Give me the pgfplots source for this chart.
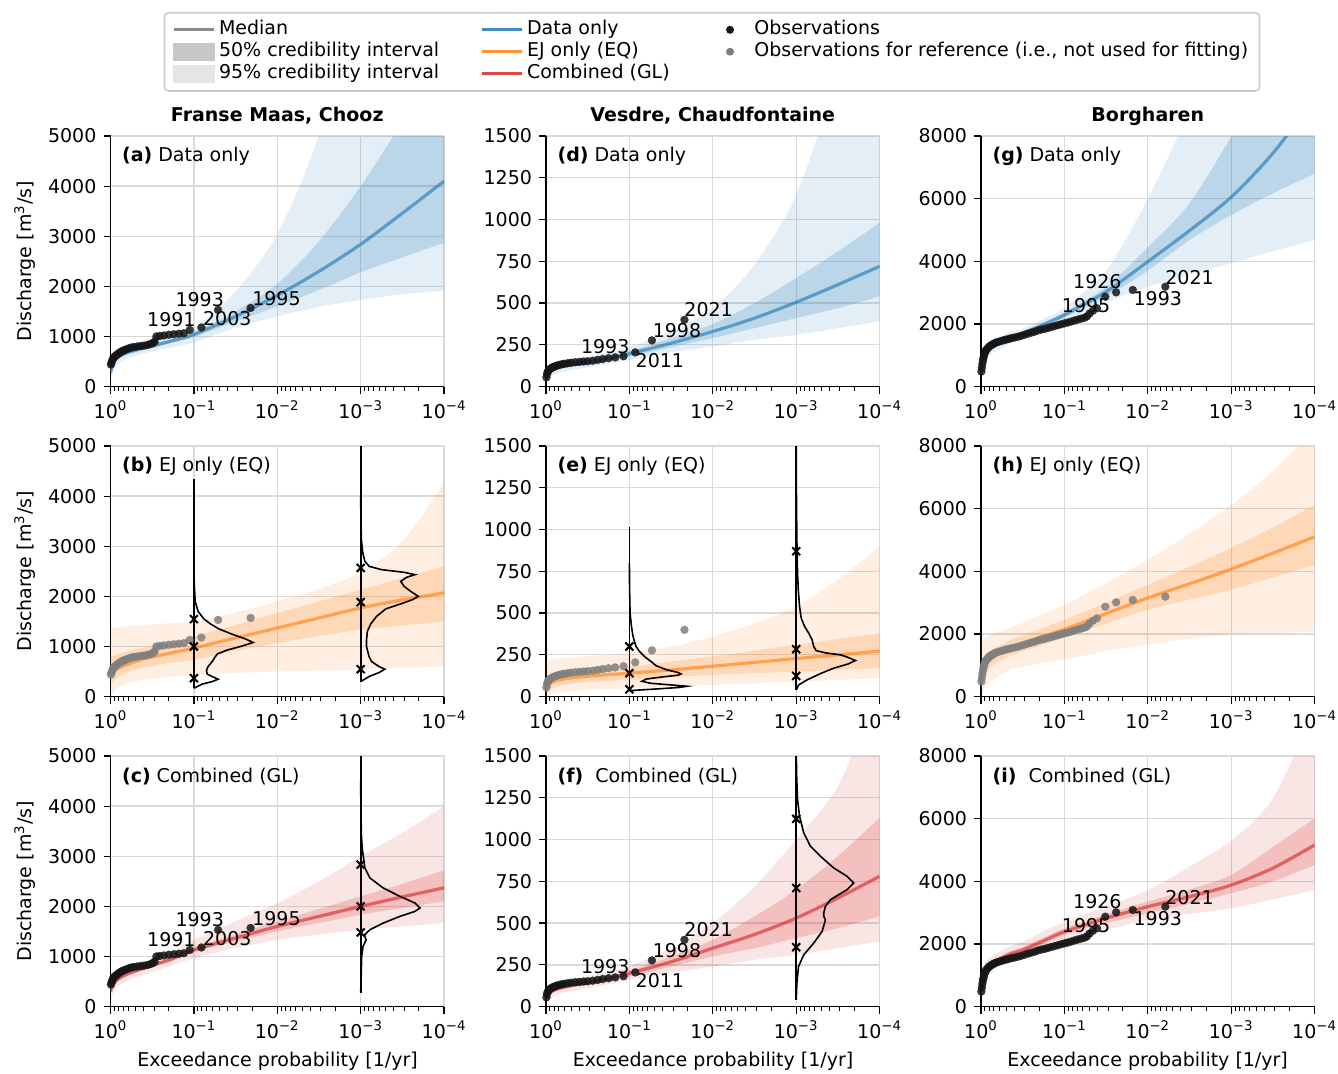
\documentclass[border=0pt]{standalone}
\usepackage{fontspec}
\setmainfont{DejaVu Sans}
\usepackage{pgfplots}
\pgfplotsset{compat=1.18}
\usepackage{pgfplotstable}
\usepgfplotslibrary{fillbetween}
\newcommand{\fs}{\fontsize{9.5pt}{11pt}\selectfont}
\definecolor{tblue}{HTML}{1F77B4}
\definecolor{torange}{HTML}{FF7F0E}
\definecolor{tred}{HTML}{D62728}
\definecolor{gridc}{HTML}{DADADA}
\definecolor{refgray}{HTML}{7F7F7F}
\definecolor{obsblack}{HTML}{151515}

\tikzset{
  yl/.style={font=\fs, inner sep=0pt},
  plab/.style={font=\fs, inner sep=0pt, anchor=west},
}
\pgfplotsset{
  every axis title/.style={at={(0.5,1)}, anchor=base, yshift=7.5pt, font=\fs\bfseries},
  panel/.style={
    scale only axis, width=166.8pt, height=125.3pt, anchor=north west,
    xmin=0, xmax=4, ymin=0,
    axis lines=left, axis line style={-, line width=0.65pt, black},
    xtick={0,1,2,3,4},
    xticklabels={10\textsuperscript{0},10\textsuperscript{−1},10\textsuperscript{−2},10\textsuperscript{−3},10\textsuperscript{−4}},
    xminorticks=true,
    minor xtick={0.0458,0.0969,0.1549,0.2218,0.3010,0.3979,0.5229,0.6990,
      1.0458,1.0969,1.1549,1.2218,1.3010,1.3979,1.5229,1.6990,
      2.0458,2.0969,2.1549,2.2218,2.3010,2.3979,2.5229,2.6990,
      3.0458,3.0969,3.1549,3.2218,3.3010,3.3979,3.5229,3.6990},
    tick align=outside, major tick length=3.5pt, minor tick length=2pt,
    major tick style={black, line width=0.6pt},
    minor tick style={black, line width=0.5pt},
    grid=major, major grid style={line width=0.65pt, gridc},
    tick label style={font=\fs},
    scaled ticks=false,
    /pgf/number format/1000 sep={},
    /pgf/number format/assume math mode=true,
  },
}

\newcommand{\bands}[3]{%
 \addplot[name path=#3lA, draw=none, smooth, forget plot] table[x=d,y=lo95]{#1};
 \addplot[name path=#3hA, draw=none, smooth, forget plot] table[x=d,y=hi95]{#1};
 \addplot[name path=#3lB, draw=none, smooth, forget plot] table[x=d,y=lo50]{#1};
 \addplot[name path=#3hB, draw=none, smooth, forget plot] table[x=d,y=hi50]{#1};
 \addplot[fill=#2, fill opacity=0.12, draw=none, forget plot] fill between[of=#3lA and #3hA];
 \addplot[fill=#2, fill opacity=0.2, draw=none, forget plot] fill between[of=#3lB and #3hB];
 \addplot[#2, draw opacity=0.62, line width=1.6pt, smooth, forget plot] table[x=d,y=med]{#1};
}
\newcommand{\obs}[2]{\addplot[only marks, mark=*, mark size=2pt, color=#2, mark options={line width=0.1pt, opacity=0.85}, forget plot] table[x=d,y=q]{#1};}
\newcommand{\labsChooz}{%
 \node[yl] at (axis cs:1.07,1733) {1993};
 \node[yl] at (axis cs:0.73,1335) {1991};
 \node[yl] at (axis cs:1.40,1350) {2003};
 \node[yl] at (axis cs:1.99,1750) {1995};}
\newcommand{\labsVesdre}{%
 \node[yl] at (axis cs:1.95,459) {2021};
 \node[yl] at (axis cs:1.57,336) {1998};
 \node[yl] at (axis cs:0.71,237) {1993};
 \node[yl] at (axis cs:1.365,157) {2011};}
\newcommand{\labsBorg}{%
 \node[yl] at (axis cs:1.395,3341) {1926};
 \node[yl] at (axis cs:1.26,2575) {1995};
 \node[yl] at (axis cs:2.12,2798) {1993};
 \node[yl] at (axis cs:2.50,3484) {2021};}

% ---------------- data -----------------
\pgfplotstableread{
d lo95 lo50 med hi50 hi95
0 80 220 270 330 550
0.02 250 370 420 470 620
0.05 380 480 530 580 680
0.1 470 555 600 645 740
0.2 560 640 680 720 800
0.35 640 710 750 790 870
0.5 700 770 810 850 950
0.75 790 880 920 960 1050
1 880 990 1040 1090 1170
1.5 1180 1300 1400 1500 1900
2 1400 1600 1820 2050 3050
2.5 1590 1930 2300 2900 5050
3 1730 2280 2840 4000 8500
3.5 1840 2580 3460 5300 13000
4 1920 2870 4100 6800 20000
}\tabA
\pgfplotstableread{
d lo95 lo50 med hi50 hi95
0 0 200 420 800 1367
0.02 50 260 480 810 1370
0.05 120 330 520 830 1375
0.1 190 400 570 850 1385
0.2 260 480 640 900 1400
0.35 320 560 730 960 1420
0.5 360 610 790 1010 1440
0.75 400 680 880 1100 1470
1 430 733 970 1200 1500
1.5 470 910 1170 1430 1680
2 500 1067 1370 1667 1900
2.5 520 1210 1570 1900 2150
3 540 1333 1770 2133 2480
3.5 570 1420 1930 2370 3100
4 600 1500 2070 2600 4270
}\tabB
\pgfplotstableread{
d lo95 lo50 med hi50 hi95
0 67 250 300 350 533
0.02 220 360 400 440 580
0.05 330 445 480 515 630
0.1 420 525 560 595 690
0.2 520 615 650 685 770
0.35 610 705 740 775 860
0.5 690 785 820 855 940
0.75 830 920 960 1000 1100
1 967 1090 1130 1180 1333
1.5 1170 1300 1370 1440 1700
2 1333 1500 1600 1700 2067
2.5 1440 1670 1800 1950 2500
3 1533 1833 2000 2200 3000
3.5 1600 1970 2190 2450 3467
4 1667 2100 2370 2720 4000
}\tabC
\pgfplotstableread{
d lo95 lo50 med hi50 hi95
0 15 35 50 65 100
0.02 40 62 75 88 115
0.05 58 80 92 104 125
0.1 75 95 105 116 135
0.2 90 110 120 130 150
0.35 103 123 133 143 163
0.5 115 135 145 155 175
0.75 138 157 170 183 205
1 160 180 197 213 235
1.5 205 235 260 290 330
2 240 290 330 375 470
2.5 280 350 410 500 730
3 310 410 505 650 1150
3.5 350 470 610 810 1900
4 390 540 720 980 3000
}\tabD
\pgfplotstableread{
d lo95 lo50 med hi50 hi95
0 0 10 55 110 220
0.02 5 25 70 113 221
0.05 12 40 80 117 222
0.1 20 55 92 123 225
0.2 28 70 105 132 230
0.35 35 80 115 142 237
0.5 40 86 122 150 242
0.75 45 94 132 165 250
1 50 100 140 180 260
1.5 60 116 160 210 300
2 70 130 182 240 360
2.5 80 140 205 275 440
3 90 150 228 310 540
3.5 100 160 250 345 700
4 110 170 272 380 900
}\tabE
\pgfplotstableread{
d lo95 lo50 med hi50 hi95
0 0 35 50 65 110
0.02 30 58 70 82 118
0.05 48 74 85 96 126
0.1 65 89 100 111 136
0.2 82 104 115 126 150
0.35 97 120 130 140 165
0.5 110 132 142 152 180
0.75 135 155 168 180 208
1 160 180 200 216 240
1.5 205 240 268 300 350
2 240 300 350 400 500
2.5 280 350 432 540 720
3 310 410 530 700 1000
3.5 350 470 650 900 1320
4 390 540 780 1130 1900
}\tabF
\pgfplotstableread{
d lo95 lo50 med hi50 hi95
0 400 600 700 800 900
0.02 650 850 950 1050 1150
0.05 850 1040 1120 1200 1300
0.1 1000 1200 1270 1340 1430
0.2 1170 1360 1420 1480 1580
0.35 1360 1510 1570 1630 1730
0.5 1550 1640 1700 1760 1850
0.75 1850 1900 1980 2060 2170
1 2120 2200 2290 2380 2520
1.5 2680 2870 3030 3180 3700
2 3190 3700 3990 4450 6000
2.5 3580 4680 4980 5850 9000
3 3940 5480 6050 8000 14000
3.5 4320 6170 7450 10500 19000
4 4680 6800 9200 13000 25000
}\tabG
\pgfplotstableread{
d lo95 lo50 med hi50 hi95
0 0 450 700 1000 1800
0.02 150 600 850 1100 1850
0.05 300 750 1000 1250 1900
0.1 450 900 1150 1400 1960
0.2 650 1100 1350 1600 2050
0.35 850 1300 1560 1800 2200
0.5 950 1440 1700 1950 2350
0.75 1080 1660 1930 2200 2650
1 1180 1880 2150 2450 2930
1.5 1450 2330 2650 3000 3630
2 1660 2770 3150 3570 4370
2.5 1850 3100 3600 4150 5200
3 1980 3410 4070 4750 6120
3.5 2030 3800 4580 5400 7200
4 2070 4200 5100 6120 8500
}\tabH
\pgfplotstableread{
d lo95 lo50 med hi50 hi95
0 320 650 750 850 1100
0.02 550 850 950 1050 1250
0.05 800 1050 1150 1250 1400
0.1 1000 1200 1300 1400 1550
0.2 1250 1390 1480 1570 1720
0.35 1450 1590 1680 1770 1920
0.5 1600 1720 1810 1900 2070
0.75 1850 2000 2100 2200 2400
1 2070 2290 2390 2500 2710
1.5 2450 2660 2820 2950 3200
2 2770 2980 3190 3350 3720
2.5 2960 3280 3510 3740 4470
3 3140 3620 3880 4200 5300
3.5 3420 4000 4420 5100 6650
4 3720 4520 5160 6010 9500
}\tabI
\pgfplotstableread{
d q
0.005 440
0.012 480
0.02 520
0.03 560
0.04 580
0.05 600
0.065 620
0.08 640
0.095 660
0.11 680
0.13 700
0.15 715
0.17 730
0.19 745
0.22 765
0.25 780
0.28 790
0.32 800
0.36 810
0.40 818
0.44 830
0.48 850
0.51 870
0.53 900
0.55 1000
0.59 1010
0.64 1020
0.70 1035
0.76 1045
0.82 1055
0.88 1065
0.95 1130
1.09 1180
1.29 1530
1.68 1570
}\obsChooz
\pgfplotstableread{
d q
0.005 55
0.012 75
0.02 88
0.03 96
0.04 102
0.055 108
0.07 113
0.09 118
0.11 122
0.13 126
0.16 130
0.19 134
0.22 137
0.26 140
0.30 143
0.35 146
0.40 148
0.45 150
0.50 152
0.56 155
0.62 160
0.68 165
0.75 170
0.83 175
0.93 182
1.07 205
1.27 277
1.66 400
}\obsVesdre
\pgfplotstableread{
d q
0.004 480
0.010 600
0.016 720
0.022 820
0.028 900
0.035 980
0.042 1050
0.050 1110
0.060 1160
0.072 1200
0.085 1240
0.10 1280
0.12 1320
0.14 1350
0.16 1380
0.18 1405
0.21 1430
0.24 1455
0.27 1480
0.30 1500
0.33 1520
0.36 1545
0.40 1565
0.44 1590
0.48 1620
0.52 1655
0.56 1690
0.60 1720
0.64 1750
0.68 1790
0.72 1820
0.76 1840
0.80 1870
0.84 1900
0.88 1930
0.92 1960
0.96 1990
1.00 2020
1.04 2045
1.08 2075
1.12 2110
1.16 2140
1.20 2170
1.24 2200
1.27 2240
1.30 2330
1.34 2420
1.39 2500
1.49 2870
1.62 3010
1.82 3085
2.21 3190
}\obsBorg

\begin{document}
\begin{tikzpicture}

% ===== (a)
\begin{axis}[panel, at={(55.25pt,-68pt)}, ymax=5000, ytick={0,1000,...,5000}, title={Franse Maas, Chooz}]
\bands{\tabA}{tblue}{pa}
\obs{\obsChooz}{obsblack}
\labsChooz
\node[plab] at (rel axis cs:0.0335,0.92) {\textbf{(a)} Data only};
\end{axis}
% ===== (b)
\begin{axis}[panel, at={(55.25pt,-223pt)}, ymax=5000, ytick={0,1000,...,5000}]
\bands{\tabB}{torange}{pb}
\obs{\obsChooz}{refgray}
\addplot[black, line width=0.8pt, forget plot] coordinates {(1,167) (1,4333)};
\addplot[black, line width=0.8pt, forget plot] coordinates {(1,167) (1.10,250) (1.22,300) (1.29,347) (1.22,400) (1.16,450) (1.15,520) (1.17,600) (1.22,700) (1.25,780) (1.28,850) (1.40,930) (1.56,1000) (1.71,1080) (1.62,1150) (1.45,1250) (1.30,1350) (1.20,1450) (1.12,1550) (1.05,1700) (1.015,1900) (1.003,2300) (1,2600)};
\addplot[only marks, mark=x, mark size=2.8pt, black, mark options={line width=1pt}, forget plot] coordinates {(1,367) (1,1000) (1,1547)};
\addplot[black, line width=0.8pt, forget plot] coordinates {(3,300) (3,6000)};
\addplot[black, line width=0.8pt, forget plot] coordinates {(3,300) (3.10,400) (3.22,480) (3.29,547) (3.22,600) (3.13,700) (3.10,800) (3.07,1000) (3.07,1133) (3.08,1300) (3.12,1450) (3.19,1600) (3.30,1750) (3.48,1850) (3.62,1933) (3.69,2000) (3.60,2100) (3.52,2200) (3.48,2300) (3.55,2380) (3.65,2433) (3.52,2480) (3.25,2533) (3.10,2600) (3.05,2700) (3.025,2867) (3.008,3133) (3.002,3600) (3,4000)};
\addplot[only marks, mark=x, mark size=2.8pt, black, mark options={line width=1pt}, forget plot] coordinates {(3,547) (3,1887) (3,2567)};
\node[plab] at (rel axis cs:0.0335,0.92) {\textbf{(b)} EJ only (EQ)};
\end{axis}
% ===== (c)
\begin{axis}[panel, at={(55.25pt,-378pt)}, ymax=5000, ytick={0,1000,...,5000}]
\bands{\tabC}{tred}{pc}
\obs{\obsChooz}{obsblack}
\labsChooz
\addplot[black, line width=0.8pt, forget plot] coordinates {(3,280) (3,6000)};
\addplot[black, line width=0.8pt, forget plot] coordinates {(3,280) (3.012,1000) (3.028,1200) (3.065,1333) (3.05,1400) (3.048,1433) (3.11,1533) (3.27,1667) (3.47,1800) (3.65,1900) (3.71,1967) (3.65,2067) (3.47,2200) (3.27,2367) (3.11,2567) (3.05,2767) (3.02,3133) (3.008,3433) (3.002,4000) (3,4500)};
\addplot[only marks, mark=x, mark size=2.8pt, black, mark options={line width=1pt}, forget plot] coordinates {(3,1480) (3,2000) (3,2833)};
\node[plab] at (rel axis cs:0.0335,0.92) {\textbf{(c)} Combined (GL)};
\end{axis}

% ===== (d)
\begin{axis}[panel, at={(273pt,-68pt)}, ymax=1500, ytick={0,250,...,1500}, title={Vesdre, Chaudfontaine}]
\bands{\tabD}{tblue}{pd}
\obs{\obsVesdre}{obsblack}
\labsVesdre
\node[plab] at (rel axis cs:0.0335,0.92) {\textbf{(d)} Data only};
\end{axis}
% ===== (e)
\begin{axis}[panel, at={(273pt,-223pt)}, ymax=1500, ytick={0,250,...,1500}]
\bands{\tabE}{torange}{pe}
\obs{\obsVesdre}{refgray}
\addplot[black, line width=0.8pt, forget plot] coordinates {(1,36) (1,1016)};
\addplot[black, line width=0.8pt, forget plot] coordinates {(1,36) (1.3,45) (1.6,55) (1.69,62) (1.5,70) (1.25,80) (1.15,92) (1.2,105) (1.4,118) (1.58,128) (1.62,136) (1.58,145) (1.45,160) (1.32,185) (1.26,210) (1.18,240) (1.12,270) (1.08,300) (1.06,330) (1.04,370) (1.025,420) (1.008,500) (1.002,650) (1,800)};
\addplot[only marks, mark=x, mark size=2.8pt, black, mark options={line width=1pt}, forget plot] coordinates {(1,44) (1,140) (1,300)};
\addplot[black, line width=0.8pt, forget plot] coordinates {(3,40) (3,2000)};
\addplot[black, line width=0.8pt, forget plot] coordinates {(3,40) (3.03,70) (3.13,100) (3.30,140) (3.45,170) (3.62,195) (3.71,216) (3.62,235) (3.53,250) (3.35,262) (3.24,275) (3.21,300) (3.19,340) (3.15,380) (3.10,420) (3.06,470) (3.04,540) (3.025,640) (3.016,740) (3.008,940) (3.003,1200) (3,1500)};
\addplot[only marks, mark=x, mark size=2.8pt, black, mark options={line width=1pt}, forget plot] coordinates {(3,124) (3,284) (3,870)};
\node[plab] at (rel axis cs:0.0335,0.92) {\textbf{(e)} EJ only (EQ)};
\end{axis}
% ===== (f)
\begin{axis}[panel, at={(273pt,-378pt)}, ymax=1500, ytick={0,250,...,1500}]
\bands{\tabF}{tred}{pf}
\obs{\obsVesdre}{obsblack}
\labsVesdre
\addplot[black, line width=0.8pt, forget plot] coordinates {(3,40) (3,2000)};
\addplot[black, line width=0.8pt, forget plot] coordinates {(3,40) (3.008,140) (3.028,240) (3.09,310) (3.21,380) (3.31,450) (3.34,500) (3.35,520) (3.33,540) (3.33,560) (3.34,580) (3.35,600) (3.41,640) (3.61,700) (3.69,740) (3.61,780) (3.45,830) (3.29,900) (3.17,960) (3.09,1040) (3.04,1140) (3.016,1240) (3.004,1400) (3,1600)};
\addplot[only marks, mark=x, mark size=2.8pt, black, mark options={line width=1pt}, forget plot] coordinates {(3,356) (3,710) (3,1124)};
\node[plab] at (rel axis cs:0.0335,0.92) {\textbf{(f)}\ \ Combined (GL)};
\end{axis}

% ===== (g)
\begin{axis}[panel, at={(490.5pt,-68pt)}, ymax=8000, ytick={0,2000,...,8000}, title={Borgharen}]
\bands{\tabG}{tblue}{pg}
\obs{\obsBorg}{obsblack}
\labsBorg
\node[plab] at (rel axis cs:0.0335,0.92) {\textbf{(g)} Data only};
\end{axis}
% ===== (h)
\begin{axis}[panel, at={(490.5pt,-223pt)}, ymax=8000, ytick={0,2000,...,8000}]
\bands{\tabH}{torange}{ph}
\obs{\obsBorg}{refgray}
\node[plab] at (rel axis cs:0.0335,0.92) {\textbf{(h)} EJ only (EQ)};
\end{axis}
% ===== (i)
\begin{axis}[panel, at={(490.5pt,-378pt)}, ymax=8000, ytick={0,2000,...,8000}]
\bands{\tabI}{tred}{pi}
\obs{\obsBorg}{obsblack}
\labsBorg
\node[plab] at (rel axis cs:0.0335,0.92) {\textbf{(i)}\ \ Combined (GL)};
\end{axis}

% ===== legend
\begin{axis}[at={(273pt,-68pt)}, anchor=north west, scale only axis, width=166.8pt, height=125.3pt,
  hide axis, xmin=0, xmax=1, ymin=0, ymax=1,
  legend columns=3, legend cell align=left,
  legend style={at={(0.4976,1.4948)}, anchor=north, font=\fs, draw=black!20, line width=0.8pt,
    rounded corners=2pt, fill=white, inner sep=4pt, row sep=1.85pt,
    nodes={inner xsep=1.65pt, inner ysep=0pt, text height=7pt, text depth=2pt},
    /tikz/every even column/.append style={column sep=19pt}}]
\addlegendimage{legend image code/.code={\draw[sharp corners, black!45, line width=1.6pt] (0pt,0pt) -- (20pt,0pt);}}
\addlegendentry{Median}
\addlegendimage{legend image code/.code={\draw[sharp corners, tblue, draw opacity=0.85, line width=1.6pt] (0pt,0pt) -- (20pt,0pt);}}
\addlegendentry{Data only}
\addlegendimage{legend image code/.code={\path[draw=none, fill=none] (0pt,-0.5pt) rectangle (20pt,0.5pt); \fill[obsblack, draw=none] (9.5pt,0pt) circle (2pt);}}
\addlegendentry{Observations}
\addlegendimage{legend image code/.code={\fill[sharp corners, black!22] (0pt,-4.2pt) rectangle (20pt,4.2pt);}}
\addlegendentry{50\% credibility interval}
\addlegendimage{legend image code/.code={\draw[sharp corners, torange, draw opacity=0.85, line width=1.6pt] (0pt,0pt) -- (20pt,0pt);}}
\addlegendentry{EJ only (EQ)}
\addlegendimage{legend image code/.code={\path[draw=none, fill=none] (0pt,-0.5pt) rectangle (20pt,0.5pt); \fill[refgray, draw=none] (9.5pt,0pt) circle (2pt);}}
\addlegendentry{Observations for reference (i.e., not used for fitting)}
\addlegendimage{legend image code/.code={\fill[sharp corners, black!10] (0pt,-4.2pt) rectangle (20pt,4.2pt);}}
\addlegendentry{95\% credibility interval}
\addlegendimage{legend image code/.code={\draw[sharp corners, tred, draw opacity=0.85, line width=1.6pt] (0pt,0pt) -- (20pt,0pt);}}
\addlegendentry{Combined (GL)}
\addlegendimage{empty legend}
\addlegendentry{}
\end{axis}

% ===== axis labels
\foreach \yy in {130.7,285.7,440.7}{
  \node[font=\fs, rotate=90] at (12.5pt,-\yy pt) {Discharge [m\textsuperscript{3}/s]};
}
\foreach \xx in {138.75,356.5,573.8}{
  \node[font=\fs] at (\xx pt,-530.75pt) {Exceedance probability [1/yr]};
}
\pgfresetboundingbox
\useasboundingbox (0,0) rectangle (669pt,-536.5pt);
\end{tikzpicture}
\end{document}
